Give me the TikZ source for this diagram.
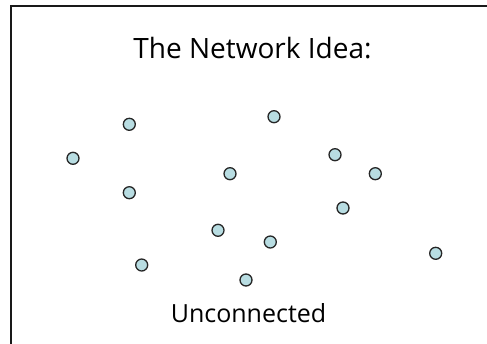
\documentclass[tikz,border=0pt]{standalone}
\usepackage{fontspec}
\setmainfont{Open Sans}
\begin{document}
\begin{tikzpicture}[x=1pt,y=-1pt,
  dot/.style={circle,draw=black!85,line width=1.3pt,fill=dotfill,minimum size=12pt,inner sep=0pt},
  lbl/.style={inner sep=0pt,anchor=base,text=black}]
\definecolor{dotfill}{HTML}{B8DDE2}
\useasboundingbox (0,0) rectangle (487,343);
\draw[line width=2.2pt,black!90] (11,345) -- (11,6) -- (490,6);
\node[lbl,font=\fontsize{28}{30}\selectfont] (title) at (252.5,58.3) {The Network Idea:};
\node[lbl,font=\fontsize{25}{27}\selectfont] (unc) at (248.5,322.7) {Unconnected};
\node[dot] (n1) at (129.3,124.3) {};
\node[dot] (n2) at (274,116.7) {};
\node[dot] (n3) at (73,158.3) {};
\node[dot] (n4) at (335,154.7) {};
\node[dot] (n5) at (230,173.7) {};
\node[dot] (n6) at (375.3,173.7) {};
\node[dot] (n7) at (129.3,192.7) {};
\node[dot] (n8) at (343,208) {};
\node[dot] (n9) at (218,230.3) {};
\node[dot] (n10) at (270.3,242) {};
\node[dot] (n11) at (435.7,253.3) {};
\node[dot] (n12) at (141.7,265) {};
\node[dot] (n13) at (246,280) {};
\end{tikzpicture}
\end{document}
